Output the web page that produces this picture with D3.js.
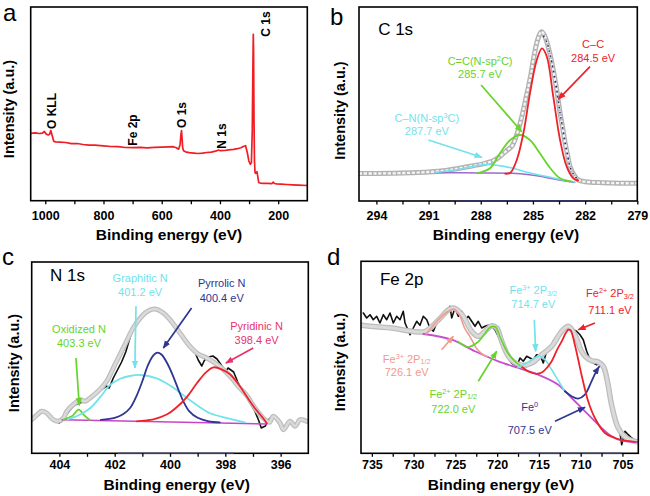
<!DOCTYPE html>
<html><head><meta charset="utf-8">
<script src="https://cdn.jsdelivr.net/npm/d3@7"></script>
<style>body{margin:0;background:#fff}svg{display:block}</style>
</head><body>
<svg id="chart" width="650" height="496"></svg>
<script>
// ================= DATA =================
// (a) survey spectrum: [binding energy eV, intensity a.u.]
const surveySpectrum = [[1050,67.4],[1035,67.8],[1020,67.2],[1010,67.5],[1003,69.2],[997,66.8],[990,65.8],[985,66.5],[981,70.2],[976,65],[971,59.5],[965,58.8],[950,58.5],[930,58.2],[910,57],[890,57.2],[870,56.2],[850,55.5],[830,55.6],[800,54.8],[775,54.2],[750,54],[725,53.2],[700,53],[675,53.4],[650,52.8],[625,53.3],[600,53.5],[575,53.8],[560,54],[550,53],[542,51.5],[537,56],[534,66],[532,70],[530,62],[528,53],[525,50],[515,48.5],[505,48],[490,47.6],[475,47.2],[460,47.6],[445,48.2],[430,48.6],[415,49.5],[405,50.7],[398,50],[385,50.2],[370,50.8],[353,51.4],[340,52],[328,53],[318,54.5],[312,55],[306,48],[301,40],[296,36.4],[292,38],[289,70],[287,130],[285.5,166.4],[284.5,150],[283,80],[281.5,40],[279.5,28],[277,27.4],[273,29],[270,24],[267,18.3],[262,17.6],[250,17.4],[235,17.3],[222,17],[217,18.6],[213,17.2],[205,16.8],[190,16.5],[170,16.2],[150,15.8],[130,15.5],[100,15.2]];
const surveyPeakNames = ["O KLL", "Fe 2p", "O 1s", "N 1s", "C 1s"];
const surveyTicks = [1000, 800, 600, 400, 200];
const surveyMinorTicks = [900, 700, 500, 300];

// (b) C 1s
const c1sRaw = [[295,27.5],[294,27.5],[293,27.7],[292,28.2],[291,29],[290,30.5],[289.3,32.5],[288.5,35],[287.75,37.7],[287.2,41],[286.8,46],[286.5,50.5],[286.2,55],[285.9,68],[285.64,84.3],[285.45,99],[285.26,114.3],[285.1,128],[284.98,141],[284.78,158],[284.62,166.5],[284.5,169.3],[284.35,166],[284.2,159],[284.05,149],[283.92,139],[283.78,126],[283.63,111],[283.44,88],[283.3,74],[283.15,58],[283.0,45],[282.87,34.3],[282.6,25],[282.39,21],[282.0,19.3],[281,18.3],[280,17.8],[279,17.7]];
const c1sFitEnvelope = [[284.4,165],[284.2,159],[284.05,149],[283.92,139],[283.78,126],[283.63,111],[283.44,88],[283.3,74],[283.15,58],[283.0,45],[282.87,34.3],[282.6,25],[282.39,21]];
const c1sCC = [[286.6,27.3],[286.3,28.2],[285.93,41],[285.55,67.7],[285.17,107.7],[284.78,141],[284.48,152.7],[284.2,144.3],[283.83,104.3],[283.44,61],[283.06,34.3],[282.68,22.7],[282.4,20.5]];
const c1sCC2 = [[288.2,27.7],[287.47,32.7],[286.9,47.7],[286.3,61],[285.74,66],[285.17,61],[284.6,47.7],[284.0,32.7],[283.44,22.7],[282.77,19.3]];
const c1sCN = [[290.6,28.6],[289.5,31],[288.5,34.5],[287.8,36.5],[287.0,35.5],[286.13,32.7],[285.17,28],[284.2,24.5],[283.44,21.5],[282.6,19]];
const c1sBackground = [[290.6,28.3],[288.0,28],[286.2,27.7],[285.2,26.3],[284.5,24.5],[283.5,21],[282.6,18.7]];
const c1sZero = [[289.5,0],[282,0]];
const c1sTicks = [294, 291, 288, 285, 282, 279];
const c1sMinorTicks = [292.5, 289.5, 286.5, 283.5, 280.5];

// (c) N 1s
const n1sRaw = [[404.1,31.8],[404.0,30.3],[403.85,34.3],[403.7,40.3],[403.5,47.3],[403.3,50.3],[403.1,51.3],[402.95,54.3],[402.8,56.3],[402.6,61.3],[402.45,64.3],[402.3,67.3],[402.2,65.3],[402.05,75.3],[401.9,83.3],[401.75,91.3],[401.6,101.3],[401.45,115.3],[401.3,127.3],[401.15,132.3],[401.0,137.3],[400.85,141.3],[400.7,143.3],[400.5,143.8],[400.3,142.3],[400.1,138.3],[400.0,135.3],[399.85,129.3],[399.7,121.3],[399.55,115.3],[399.4,111.3],[399.25,106.3],[399.1,101.3],[398.98,93.3],[398.85,87.3],[398.75,93.3],[398.6,96.3],[398.45,97.3],[398.3,94.3],[398.15,88.3],[398.0,81.3],[397.9,85.3],[397.8,83.3],[397.7,81.3],[397.55,71.3],[397.4,63.3],[397.25,57.3],[397.1,50.3],[396.95,43.3],[396.8,33.3],[396.7,25.3],[396.55,27.3],[396.45,33.3],[396.3,37.3]];
const n1sEnvelope = [[405.0,33.6],[404.8,38.6],[404.64,42],[404.46,40.3],[404.22,33.6],[404.04,32],[403.85,35.3],[403.73,42],[403.43,50.3],[403.25,53.6],[403.07,52],[402.89,55.3],[402.6,62],[402.29,72],[401.99,88.6],[401.63,108.6],[401.33,125.3],[401.02,137],[400.78,142.6],[400.54,144.3],[400.24,140.3],[400.0,133.6],[399.64,120.3],[399.28,107],[398.98,99.3],[398.67,95.3],[398.37,90.3],[398.07,83.6],[397.77,75.3],[397.53,67],[397.23,58],[396.93,45.3],[396.63,35.3],[396.4,31],[396.27,37],[396.02,30.3],[395.9,23.6],[395.66,32],[395.48,27],[395.3,33.6],[395.06,32]];
const n1sBackground = [[403.9,33.6],[396.5,29.3]];
const n1sOxidized = [[403.85,33.6],[403.55,37],[403.3,43.6],[403.1,38],[402.9,33.3]];
const n1sGraphitic = [[403.7,34],[403.3,38],[402.89,45],[402.5,57],[402.17,68.3],[401.8,74.5],[401.45,77.3],[401.08,78.3],[400.48,75],[400.1,69.5],[399.76,63.3],[399.4,55.5],[399.03,48.3],[398.55,40],[397.9,35],[397.3,31]];
const n1sPyrrolic = [[402.5,33.5],[402.0,35.5],[401.7,39],[401.45,45],[401.2,58],[401.0,72],[400.8,88],[400.6,98],[400.46,100.6],[400.3,98.5],[400.1,90],[399.9,78],[399.7,64],[399.5,51],[399.3,42],[399.0,35.5],[398.6,32],[398.2,31]];
const n1sPyridinic = [[401.2,32],[400.6,34],[400.1,39],[399.8,45],[399.4,56],[399.03,70],[398.7,81],[398.43,86],[398.1,83.5],[397.83,79],[397.5,68],[397.23,57],[396.9,44],[396.63,35],[396.5,30]];
const n1sZero = [[401.9,0],[397.7,0]];
const n1sTicks = [404, 402, 400, 398, 396];
const n1sMinorTicks = [403, 401, 399, 397];

// (d) Fe 2p
const fe2pRaw = [[736.02,140.3],[735.62,135.3],[735.22,138.6],[734.83,133.6],[734.42,137],[734.03,130.3],[733.63,138.6],[733.22,133.6],[732.83,140.3],[732.43,130.3],[732.03,137],[731.63,133.6],[731.24,142],[731.03,130.3],[730.43,118.6],[730.04,125.3],[729.63,132],[729.24,128],[728.84,137],[728.43,133.6],[728.04,125.3],[727.64,122],[727.24,130.3],[726.84,133.6],[726.45,138.6],[726.04,140.3],[725.65,147],[725.44,135.3],[725.05,145.3],[724.65,137],[724.24,142],[723.85,133.6],[723.45,137],[723.05,132],[722.65,127],[722.26,132],[721.85,125.3],[721.46,127],[721.06,128],[720.65,127],[720.26,123.6],[719.86,117],[719.46,108.6],[719.06,102],[718.67,95.3],[718.26,90.3],[717.66,87],[717.26,95.3],[716.87,92],[716.46,97],[716.07,95.3],[715.67,93.6],[715.27,98.6],[714.87,98.6],[714.48,90.3],[714.07,102],[713.67,105.3],[713.28,112],[712.87,117],[712.48,120.3],[712.08,123.6],[711.67,125.3],[711.28,123.6],[710.88,123.6],[710.48,122],[710.08,118.6],[709.69,113.6],[709.28,102],[708.88,93.6],[708.49,90.3],[708.08,88.6],[707.69,90.3],[707.29,88.6],[706.88,82],[706.49,65.3],[706.09,45.3],[705.68,28.6],[705.29,20.3],[705.09,8.6],[704.69,22],[704.3,18.6],[703.89,15.3],[703.3,12]];
const fe2pEnvelope = [[736.3,128],[734.5,126.5],[732.6,125.3],[730.2,122],[728.6,122],[727.0,133.6],[725.8,143.6],[725.2,145.3],[724.2,138.6],[723.05,122],[722.25,117],[721.45,122],[720.65,127.6],[720.05,125.3],[719.45,112],[718.5,95.3],[717.06,88],[715.87,90.3],[714.67,98.6],[713.47,107],[712.27,122],[711.47,127],[710.7,118.6],[709.9,102],[709.48,97],[708.7,92.6],[707.9,91.3],[707.3,87],[706.8,72],[706.3,48.6],[705.5,25.3],[704.5,15.3],[703.1,11.3]];
const fe2pBackground = [[728.84,119.3],[725.44,113.6],[722.65,102],[719.86,92],[717.47,85.3],[715.07,78.6],[712.68,68.6],[711.08,55.3],[709.48,42],[707.89,28.6],[706.29,17],[705.09,12.6],[703.1,11.3]];
const fe2pFe2p12 = [[724.7,112],[723.5,106.3],[722.3,111.3],[721.5,119.3],[720.8,126.3],[720.2,126.3],[719.6,115.3],[718.8,101.3],[717.8,91.3],[717.0,86.3],[716.5,83]];
const fe2pFe3p12 = [[728.5,119.3],[727.3,131.3],[726.0,141.3],[725.2,144.3],[724.5,138.3],[723.9,125.3],[723.2,116],[722.5,105.3],[721.8,99.3],[721.2,96.8]];
const fe2pFe3p32 = [[717.5,85.5],[716.5,90],[715.5,95.5],[714.8,97],[714.2,93],[713.5,84],[712.7,73],[711.9,62]];
const fe2pFe2p32 = [[717.0,86],[716.2,81.5],[715.3,79.5],[714.6,81],[714.0,86],[713.47,92],[712.8,104],[712.27,112],[711.8,120],[711.47,123.6],[711.2,123],[710.7,108.6],[710.3,94],[709.9,78.6],[709.1,52],[708.3,35.3],[707.1,20.3],[705.9,15.3],[704.7,12.6],[703.5,11.5]];
const fe2pFe0 = [[711.9,62],[711.08,57],[710.3,54.6],[709.5,58.6],[708.7,72],[708.2,81],[707.8,86.5]];
const fe2pZero = [[717.66,0],[705.09,0]];
const fe2pTicks = [735, 730, 725, 720, 715, 710, 705];
const fe2pMinorTicks = [732.5, 727.5, 722.5, 717.5, 712.5, 707.5];

// ================= STYLE / LAYOUT =================
const FONT = "'Liberation Sans', Arial, Helvetica, sans-serif";
const RED = "#ee2228", GREEN = "#66d42a", CYAN = "#72e2ec", NAVY = "#2e3592",
      PINK = "#e8336a", SALMON = "#f29a8c", GREY = "#bdbdbd", GREYIN = "#dadada";

const svg = d3.select("#chart");
const defs = svg.append("defs");
const markerIds = {};
function marker(color) {
  if (markerIds[color]) return markerIds[color];
  const id = "arr" + Object.keys(markerIds).length;
  defs.append("marker").attr("id", id).attr("viewBox", "0 0 10 8").attr("refX", 9).attr("refY", 4)
    .attr("markerWidth", 8).attr("markerHeight", 7).attr("markerUnits", "userSpaceOnUse").attr("orient", "auto")
    .append("path").attr("d", "M0,0 L10,4 L0,8 Z").attr("fill", color);
  markerIds[color] = id;
  return id;
}
function parseRich(s) {
  const out = []; const re = /(\^|_)\{([^}]*)\}/g; let last = 0, m;
  while ((m = re.exec(s))) {
    if (m.index > last) out.push({t: s.slice(last, m.index)});
    out.push({t: m[2], sup: m[1] === "^", sub: m[1] === "_"});
    last = re.lastIndex;
  }
  if (last < s.length) out.push({t: s.slice(last)});
  return out;
}
function richText(parent, x, y, s, size, color, anchor) {
  const t = parent.append("text").attr("x", x).attr("y", y).attr("text-anchor", anchor || "middle")
    .attr("font-family", FONT).attr("font-size", size).attr("fill", color);
  let cur = 0;
  parseRich(s).forEach(seg => {
    const off = seg.sup ? -size * 0.36 : seg.sub ? size * 0.18 : 0;
    t.append("tspan").attr("dy", off - cur).attr("font-size", (seg.sup || seg.sub) ? size * 0.66 : size).text(seg.t);
    cur = off;
  });
  return t;
}

function drawPanel(P) {
  const x = d3.scaleLinear().domain(P.xDomain).range([P.left, P.right]);
  const y = d3.scaleLinear().domain(P.yDomain).range([P.bottom, P.top]);
  const g = svg.append("g");
  const cid = "clip-" + P.id;
  defs.append("clipPath").attr("id", cid).append("rect")
    .attr("x", P.left).attr("y", P.top).attr("width", P.right - P.left).attr("height", P.bottom - P.top);
  const plot = g.append("g").attr("clip-path", `url(#${cid})`);
  const smooth = d3.line().x(d => x(d[0])).y(d => y(d[1])).curve(d3.curveCatmullRom.alpha(0.5));
  const straight = d3.line().x(d => x(d[0])).y(d => y(d[1]));
  P.layers.forEach(L => {
    L.strokes.forEach(s => {
      plot.append("path").datum(L.data).attr("d", L.smooth ? smooth : straight)
        .attr("fill", "none").attr("stroke", s.c).attr("stroke-width", s.w)
        .attr("stroke-dasharray", s.dash || null).attr("stroke-linejoin", "round").attr("stroke-linecap", s.cap || "round")
        .attr("marker-end", s.arrow ? `url(#${marker(s.c)})` : null);
    });
  });
  // frame
  g.append("rect").attr("x", P.left).attr("y", P.top).attr("width", P.right - P.left).attr("height", P.bottom - P.top)
    .attr("fill", "none").attr("stroke", "#000").attr("stroke-width", 1.6);
  if (P.zero) g.append("path").datum(P.zero).attr("d", straight).attr("stroke", NAVY).attr("stroke-width", 1.2).attr("fill", "none");
  // axis
  const axis = d3.axisBottom(x).tickValues(P.ticks.concat(P.minor)).tickSize(3.5)
    .tickFormat(d => P.ticks.includes(d) ? String(d) : "");
  const ag = g.append("g").attr("transform", `translate(0,${P.bottom})`).call(axis);
  ag.select(".domain").remove();
  ag.selectAll(".tick line").attr("stroke", "#000").attr("stroke-width", 1.3);
  ag.selectAll(".tick text").attr("y", P.tickLabelY).attr("dy", 0).attr("font-family", FONT)
    .attr("font-weight", "bold").attr("font-size", 12.5).attr("fill", "#000");
  // titles
  g.append("text").attr("x", P.titleX).attr("y", P.titleY).attr("text-anchor", "middle").attr("font-family", FONT)
    .attr("font-weight", "bold").attr("font-size", 15.5).text("Binding energy (eV)");
  g.append("text").attr("transform", `translate(${P.yTitleX},${P.yTitleY}) rotate(-90)`).attr("text-anchor", "middle")
    .attr("font-family", FONT).attr("font-weight", "bold").attr("font-size", 14.5).text("Intensity (a.u.)");
  g.append("text").attr("x", P.letter[1]).attr("y", P.letter[2]).attr("font-family", FONT).attr("font-size", 24).text(P.letter[0]);
  if (P.heading) g.append("text").attr("x", x(P.heading[1])).attr("y", y(P.heading[2])).attr("font-family", FONT)
    .attr("font-size", 17).text(P.heading[0]);
  // arrows
  (P.arrows || []).forEach(a => {
    g.append("line").attr("x1", x(a.from[0])).attr("y1", y(a.from[1])).attr("x2", x(a.to[0])).attr("y2", y(a.to[1]))
      .attr("stroke", a.c).attr("stroke-width", 1.7).attr("marker-end", `url(#${marker(a.c)})`);
  });
  // labels
  (P.labels || []).forEach(l => {
    l.lines.forEach(([txt, yi]) => richText(g, x(l.x), y(yi), txt, 11, l.c, "middle"));
  });
  // rotated peak labels
  (P.vlabels || []).forEach(v => {
    g.append("text").attr("transform", `translate(${x(v.x)},${y(v.y)}) rotate(-90)`).attr("text-anchor", "middle")
      .attr("dy", "0.35em").attr("font-family", FONT).attr("font-weight", "bold").attr("font-size", 12).text(v.t);
  });
}

const greyTube = [{c: GREY, w: 5}, {c: GREYIN, w: 2.6}];

// (a)
drawPanel({
  id: "a", left: 30.7, right: 307.3, top: 7, bottom: 200.7, xDomain: [1050, 100], yDomain: [0, 193.7],
  ticks: surveyTicks, minor: surveyMinorTicks, tickLabelY: 19.3, titleX: 169, titleY: 239.5,
  yTitleX: 13.5, yTitleY: 109, letter: ["a", 3, 21],
  layers: [{data: surveySpectrum, smooth: false, strokes: [{c: "#f01e24", w: 1.7}]}],
  vlabels: [
    {t: surveyPeakNames[0], x: 977.7, y: 89.7},
    {t: surveyPeakNames[1], x: 699.7, y: 70.7},
    {t: surveyPeakNames[2], x: 530.4, y: 85.7},
    {t: surveyPeakNames[3], x: 392.7, y: 64.7},
    {t: surveyPeakNames[4], x: 243.7, y: 176.7}
  ]
});

// (b)
drawPanel({
  id: "b", left: 359, right: 637.3, top: 7, bottom: 201, xDomain: [295, 279], yDomain: [0, 194],
  ticks: c1sTicks, minor: c1sMinorTicks, tickLabelY: 19, titleX: 506, titleY: 239.5,
  yTitleX: 344.5, yTitleY: 110.5, letter: ["b", 330, 25], heading: ["C 1s", 293.9, 166], zero: c1sZero,
  layers: [
    {data: c1sRaw, smooth: true, strokes: [{c: "#b2b2b2", w: 5}, {c: "#f6f6f6", w: 2.3, dash: "3.2,1.6", cap: "butt"}]},
    {data: c1sFitEnvelope, smooth: true, strokes: [{c: "#262a70", w: 1.5, dash: "1.6,3.6", cap: "butt"}]},
    {data: c1sBackground, smooth: true, strokes: [{c: "#9c6ccc", w: 1.5}]},
    {data: c1sCN, smooth: true, strokes: [{c: CYAN, w: 1.6}]},
    {data: c1sCC2, smooth: true, strokes: [{c: GREEN, w: 1.8}]},
    {data: c1sCC, smooth: true, strokes: [{c: RED, w: 1.8}]}
  ],
  arrows: [
    {from: [281.72, 134.3], to: [283.54, 101.7], c: RED},
    {from: [287.98, 116], to: [285.64, 69.3], c: GREEN},
    {from: [291.01, 61], to: [287.94, 43.7], c: CYAN}
  ],
  labels: [
    {x: 281.54, c: RED, lines: [["C–C", 152.7], ["284.5 eV", 139.3]]},
    {x: 288.04, c: GREEN, lines: [["C=C(N-sp^{2}C)", 136], ["285.7 eV", 123.2]]},
    {x: 291.1, c: CYAN, lines: [["C–N(N-sp^{3}C)", 79], ["287.7 eV", 66.5]]}
  ]
});

// (c)
drawPanel({
  id: "c", left: 31.7, right: 308.3, top: 262, bottom: 453.3, xDomain: [405, 395], yDomain: [0, 191.3],
  ticks: n1sTicks, minor: n1sMinorTicks, tickLabelY: 16, titleX: 176.7, titleY: 490,
  yTitleX: 18.5, yTitleY: 363, letter: ["c", 2, 265], heading: ["N 1s", 404.34, 172.3], zero: n1sZero,
  layers: [
    {data: n1sRaw, smooth: false, strokes: [{c: "#111", w: 1.6}]},
    {data: n1sEnvelope, smooth: true, strokes: greyTube},
    {data: n1sBackground, smooth: false, strokes: [{c: "#c845c8", w: 1.6}]},
    {data: n1sOxidized, smooth: true, strokes: [{c: GREEN, w: 1.8}]},
    {data: n1sGraphitic, smooth: true, strokes: [{c: CYAN, w: 1.8}]},
    {data: n1sPyrrolic, smooth: true, strokes: [{c: NAVY, w: 1.8}]},
    {data: n1sPyridinic, smooth: true, strokes: [{c: RED, w: 1.8}]}
  ],
  arrows: [
    {from: [401.23, 147], to: [401.27, 85.3], c: CYAN},
    {from: [399.22, 145.3], to: [400.24, 105.3], c: NAVY},
    {from: [403.4, 95.3], to: [403.28, 48], c: GREEN},
    {from: [396.99, 105.3], to: [397.98, 90.3], c: PINK}
  ],
  labels: [
    {x: 401.08, c: CYAN, lines: [["Graphitic N", 171.3], ["401.2 eV", 157]]},
    {x: 398.13, c: NAVY, lines: [["Pyrrolic N", 166.3], ["400.4 eV", 151.3]]},
    {x: 403.29, c: GREEN, lines: [["Oxidized N", 120.3], ["403.3 eV", 106.3]]},
    {x: 396.87, c: PINK, lines: [["Pyridinic N", 123.6], ["398.4 eV", 109.3]]}
  ]
});

// (d)
drawPanel({
  id: "d", left: 361, right: 638.3, top: 261.3, bottom: 453.3, xDomain: [736.3, 703.1], yDomain: [0, 192],
  ticks: fe2pTicks, minor: fe2pMinorTicks, tickLabelY: 16, titleX: 501, titleY: 490,
  yTitleX: 345, yTitleY: 362, letter: ["d", 327, 265], heading: ["Fe 2p", 734.03, 168.3], zero: fe2pZero,
  layers: [
    {data: fe2pRaw, smooth: false, strokes: [{c: "#111", w: 1.6}]},
    {data: fe2pEnvelope, smooth: true, strokes: [{c: GREY, w: 5.5}, {c: GREYIN, w: 3}]},
    {data: fe2pBackground, smooth: true, strokes: [{c: "#c64fd0", w: 1.8}]},
    {data: fe2pFe3p12, smooth: true, strokes: [{c: SALMON, w: 1.6}]},
    {data: fe2pFe2p12, smooth: true, strokes: [{c: GREEN, w: 1.6}]},
    {data: fe2pFe3p32, smooth: true, strokes: [{c: CYAN, w: 1.6}]},
    {data: fe2pFe0, smooth: true, strokes: [{c: NAVY, w: 1.8, arrow: true}]},
    {data: fe2pFe2p32, smooth: true, strokes: [{c: RED, w: 1.8}]}
  ],
  arrows: [
    {from: [726.64, 103.6], to: [725.25, 117], c: SALMON},
    {from: [722.26, 72], to: [720.05, 102], c: GREEN},
    {from: [715.55, 133.6], to: [715.39, 102], c: CYAN},
    {from: [708.29, 130.3], to: [710.28, 123.6], c: RED},
    {from: [713.07, 32], to: [709.48, 46], c: NAVY}
  ],
  labels: [
    {x: 715.67, c: CYAN, lines: [["Fe^{3+} 2P_{3/2}", 159.5], ["714.7 eV", 145.8]]},
    {x: 706.49, c: RED, lines: [["Fe^{2+} 2P_{3/2}", 156], ["711.1 eV", 139.3]]},
    {x: 730.83, c: SALMON, lines: [["Fe^{3+} 2P_{1/2}", 90.8], ["726.1 eV", 77.3]]},
    {x: 725.25, c: GREEN, lines: [["Fe^{2+} 2P_{1/2}", 55.8], ["722.0 eV", 40]]},
    {x: 716.1, c: NAVY, lines: [["Fe^{0}", 42.3], ["707.5 eV", 19.8]]}
  ]
});
</script>
</body></html>
